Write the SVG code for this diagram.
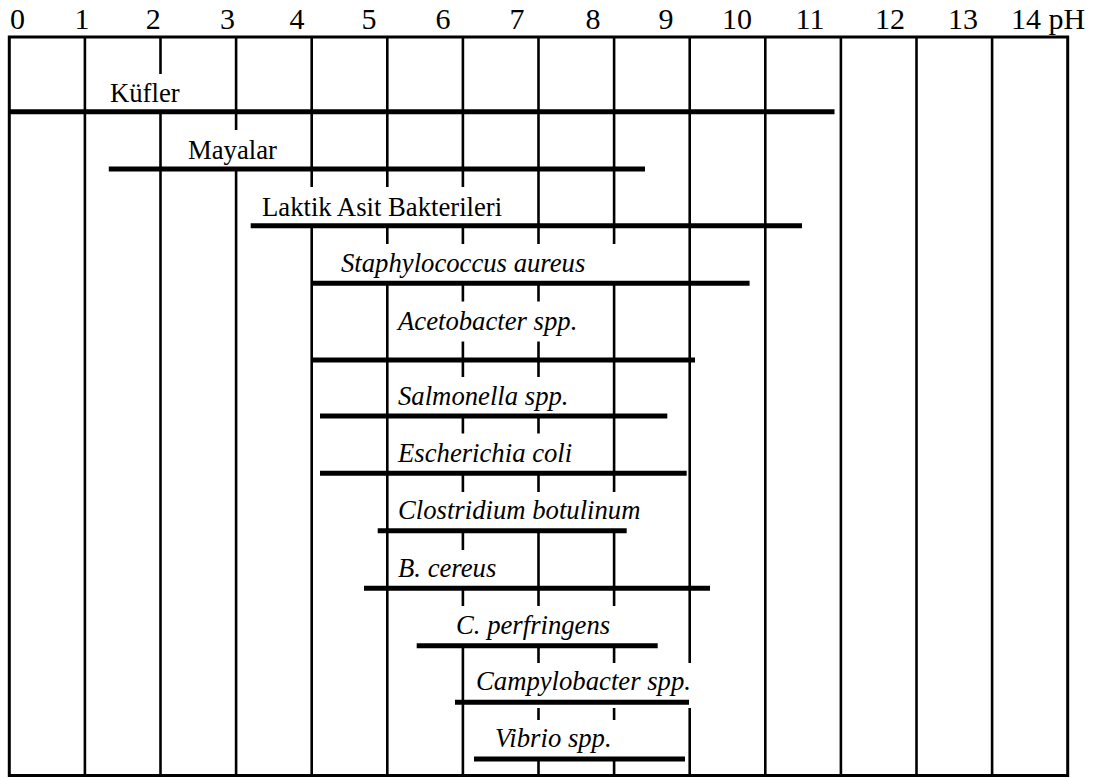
<svg xmlns="http://www.w3.org/2000/svg" width="1095" height="778" viewBox="0 0 1095 778">
<style>
.frame{fill:none;stroke:#000;stroke-width:3}
.grid{stroke:#000;stroke-width:2.6}
.mask{fill:#fff;stroke:none}
.bar{stroke:#000;stroke-width:5;stroke-linecap:butt}
.ax{font-size:30px;fill:#000;text-anchor:middle}
.lb{font-size:26.7px;fill:#000}
.it{font-style:italic}
</style>
<rect width="1095" height="778" fill="#fff"/>
<g font-family="'Liberation Serif', 'DejaVu Serif', serif">
<g id="axis">
<text class="ax" x="17.5" y="28.5">0</text>
<text class="ax" x="82" y="28.5">1</text>
<text class="ax" x="153.3" y="28.5">2</text>
<text class="ax" x="227.5" y="28.5">3</text>
<text class="ax" x="297" y="28.5">4</text>
<text class="ax" x="369" y="28.5">5</text>
<text class="ax" x="443" y="28.5">6</text>
<text class="ax" x="517" y="28.5">7</text>
<text class="ax" x="593" y="28.5">8</text>
<text class="ax" x="666" y="28.5">9</text>
<text class="ax" x="737" y="28.5">10</text>
<text class="ax" x="810" y="28.5">11</text>
<text class="ax" x="890" y="28.5">12</text>
<text class="ax" x="963" y="28.5">13</text>
<text class="ax" x="1011" y="28.5" text-anchor="start" style="text-anchor:start">14 pH</text>
</g>
<g id="grid">
<line class="grid" x1="84.9" y1="37" x2="84.9" y2="775.5"/>
<line class="grid" x1="160.5" y1="37" x2="160.5" y2="775.5"/>
<line class="grid" x1="236.1" y1="37" x2="236.1" y2="775.5"/>
<line class="grid" x1="311.7" y1="37" x2="311.7" y2="775.5"/>
<line class="grid" x1="387.3" y1="37" x2="387.3" y2="775.5"/>
<line class="grid" x1="462.9" y1="37" x2="462.9" y2="775.5"/>
<line class="grid" x1="538.5" y1="37" x2="538.5" y2="775.5"/>
<line class="grid" x1="614.1" y1="37" x2="614.1" y2="775.5"/>
<line class="grid" x1="689.7" y1="37" x2="689.7" y2="775.5"/>
<line class="grid" x1="765.3" y1="37" x2="765.3" y2="775.5"/>
<line class="grid" x1="840.9" y1="37" x2="840.9" y2="775.5"/>
<line class="grid" x1="916.5" y1="37" x2="916.5" y2="775.5"/>
<line class="grid" x1="992.1" y1="37" x2="992.1" y2="775.5"/>
<rect class="frame" x="9.3" y="37" width="1058.4" height="738.5"/>
</g>
<g id="masks">
<rect class="mask" x="100" y="74" width="120" height="37"/>
<rect class="mask" x="180" y="130" width="115" height="38"/>
<rect class="mask" x="255" y="187" width="270" height="38"/>
<rect class="mask" x="330" y="244" width="345" height="39"/>
<rect class="mask" x="395" y="301.5" width="210" height="40"/>
<rect class="mask" x="395" y="377" width="210" height="38"/>
<rect class="mask" x="395" y="433.5" width="210" height="39"/>
<rect class="mask" x="395" y="492" width="280" height="38"/>
<rect class="mask" x="395" y="550" width="130" height="38"/>
<rect class="mask" x="420" y="606" width="255" height="39"/>
<rect class="mask" x="470" y="663" width="225" height="45"/>
<rect class="mask" x="470" y="720" width="200" height="39"/>
</g>
<g id="kufler">
<line class="bar" x1="9.3" y1="111.7" x2="834.5" y2="111.7"/>
<text class="lb" x="110" y="101.7">Küfler</text>
</g>
<g id="mayalar">
<line class="bar" x1="108.8" y1="169" x2="645" y2="169"/>
<text class="lb" x="188" y="159">Mayalar</text>
</g>
<g id="laktik">
<line class="bar" x1="250.7" y1="225.7" x2="802" y2="225.7"/>
<text class="lb" x="262" y="215.7">Laktik Asit Bakterileri</text>
</g>
<g id="staphylococcus">
<line class="bar" x1="311.7" y1="283.3" x2="749.6" y2="283.3"/>
<text class="lb it" x="341" y="272">Staphylococcus aureus</text>
</g>
<g id="acetobacter">
<line class="bar" x1="311.7" y1="360" x2="695" y2="360"/>
<text class="lb it" x="398" y="330">Acetobacter spp.</text>
</g>
<g id="salmonella">
<line class="bar" x1="320" y1="416" x2="667.3" y2="416"/>
<text class="lb it" x="398" y="405">Salmonella spp.</text>
</g>
<g id="ecoli">
<line class="bar" x1="320" y1="473.3" x2="686.7" y2="473.3"/>
<text class="lb it" x="398" y="461.7">Escherichia coli</text>
</g>
<g id="clostridium">
<line class="bar" x1="377.7" y1="530.7" x2="626.7" y2="530.7"/>
<text class="lb it" x="398" y="518.5">Clostridium botulinum</text>
</g>
<g id="bcereus">
<line class="bar" x1="364" y1="588.3" x2="710" y2="588.3"/>
<text class="lb it" x="398" y="577">B. cereus</text>
</g>
<g id="cperfringens">
<line class="bar" x1="416.7" y1="645.7" x2="657.7" y2="645.7"/>
<text class="lb it" x="456" y="633.5">C. perfringens</text>
</g>
<g id="campylobacter">
<line class="bar" x1="455" y1="702.3" x2="689" y2="702.3"/>
<text class="lb it" x="476" y="690">Campylobacter spp.</text>
</g>
<g id="vibrio">
<line class="bar" x1="474" y1="759" x2="685" y2="759"/>
<text class="lb it" x="495" y="747">Vibrio spp.</text>
</g>
</g>
</svg>
